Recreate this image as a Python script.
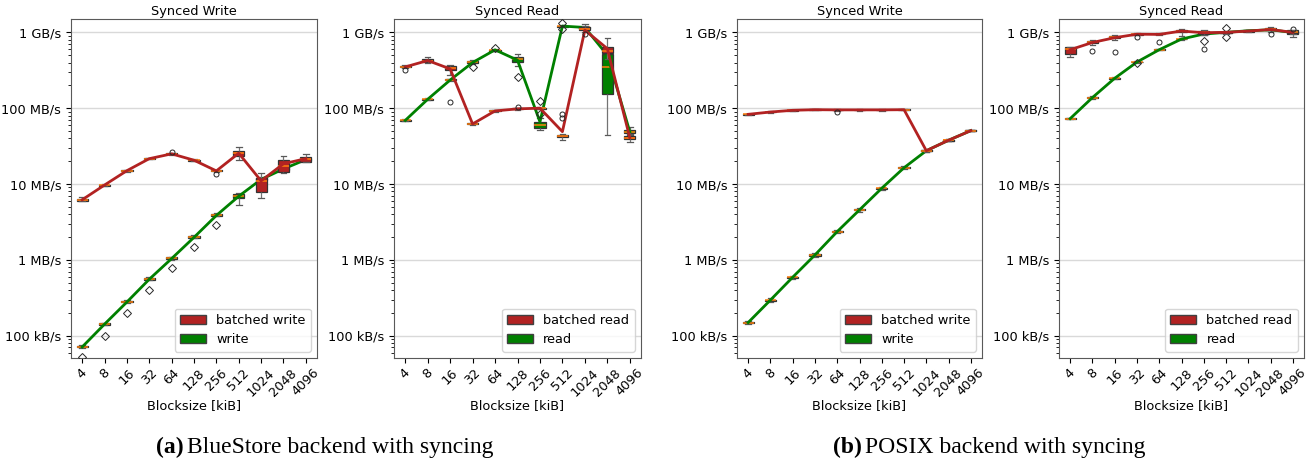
import numpy as np, pandas as pd, matplotlib.pyplot as plt, seaborn as sns
from matplotlib.patches import Patch
from matplotlib.ticker import NullFormatter

# ==========================
# DATA  (MB/s, box = lower whisker, q1, median, q3, upper whisker)
# ==========================
BLOCKSIZES = ["4", "8", "16", "32", "64", "128", "256", "512", "1024", "2048", "4096"]

# --- BlueStore, synced write
bs_wr_batched_box = [(5.9, 6.0, 6.2, 6.4, 6.7), (9.4, 9.55, 9.7, 9.85, 10.0), (14.6, 14.8, 15.0, 15.3, 15.5),
                     (21.2, 21.4, 21.6, 21.9, 22.2), (24.3, 24.7, 25.0, 25.4, 25.8), (19.9, 20.3, 20.6, 21.0, 21.5),
                     (14.4, 14.7, 14.9, 15.2, 15.5), (20.8, 23.5, 25.9, 27.5, 30.8), (6.56, 7.8, 11.1, 11.9, 13.9),
                     (14.0, 14.3, 17.1, 20.6, 23.4), (19.4, 19.7, 21.4, 23.0, 24.9)]
bs_wr_batched_mean = [6.2, 9.7, 15.0, 21.6, 25.0, 20.6, 14.9, 25.5, 11.0, 18.5, 21.6]
bs_wr_batched_out = [("64", 26.3), ("256", 13.5)]

bs_wr_box = [(0.069, 0.0705, 0.072, 0.0735, 0.075), (0.138, 0.140, 0.143, 0.146, 0.149), (0.27, 0.275, 0.28, 0.286, 0.292),
             (0.54, 0.55, 0.56, 0.575, 0.59), (1.01, 1.03, 1.05, 1.08, 1.1), (1.93, 1.96, 2.0, 2.05, 2.1),
             (3.75, 3.82, 3.9, 4.0, 4.1), (5.3, 6.6, 7.0, 7.4, 7.7), (10.8, 11.2, 11.6, 12.0, 12.3),
             (15.0, 15.4, 15.8, 16.2, 16.6), (20.0, 20.5, 21.0, 21.5, 22.0)]
bs_wr_mean = [0.071, 0.142, 0.278, 0.555, 1.04, 1.98, 3.85, 6.9, 11.5, 15.8, 21.0]
bs_wr_out = [("4", 0.052), ("8", 0.100), ("16", 0.199), ("32", 0.40), ("64", 0.77), ("128", 1.5), ("256", 2.9)]

# --- BlueStore, synced read
bs_rd_batched_box = [(335, 345, 352, 360, 370), (390, 410, 423, 440, 470), (274, 319, 336, 363, 370),
                     (60, 61, 62, 63, 64), (89, 90.5, 92, 93.5, 95), (95, 96.5, 98, 99.5, 101),
                     (97, 98.5, 100, 101.5, 103), (38, 41.5, 42.7, 44, 46), (1000, 1080, 1120, 1170, 1230),
                     (450, 530, 565, 635, 834), (36, 39, 40.8, 42.5, 45)]
bs_rd_batched_mean = [350, 425, 330, 62, 92, 98, 100, 49, 1070, 610, 41]
bs_rd_batched_out = [("4", 319), ("16", 122), ("128", 105), ("512", 83), ("512", 75), ("1024", 940)]

bs_rd_box = [(67, 68, 69, 70, 71), (127, 129, 131, 133, 135), (228, 232, 235, 239, 243),
             (385, 395, 406, 418, 432), (565, 575, 584, 592, 600), (363, 410, 440, 468, 513),
             (51.6, 55, 60, 65, 74), (1170, 1190, 1210, 1220, 1240), (1110, 1140, 1160, 1180, 1290),
             (44.3, 152, 352, 525, 600), (44, 46.5, 49, 52, 57)]
bs_rd_mean = [69, 131, 235, 400, 588, 430, 66, 1210, 1160, 500, 49]
bs_rd_out = [("32", 352), ("64", 627), ("128", 258), ("256", 124), ("256", 84), ("512", 1310), ("512", 1100)]

# --- POSIX, synced write
px_wr_batched_box = [(81, 82, 83, 84, 85), (87, 88, 89, 90, 91), (91.5, 92.8, 93.8, 94.8, 96),
                     (93.5, 94.5, 95.5, 96.5, 97.5), (93, 94, 95, 96, 97), (93, 94, 95, 96, 97),
                     (93, 94, 95, 96, 97), (93.5, 94.5, 95.5, 96.5, 97.5), (26.8, 27.2, 27.5, 27.9, 28.3),
                     (36.8, 37.3, 37.8, 38.3, 38.8), (49.4, 50.0, 50.6, 51.2, 51.8)]
px_wr_batched_mean = [83, 89, 93.8, 95.5, 95, 95, 95, 95.5, 27.5, 37.8, 50.6]
px_wr_batched_out = [("64", 88)]

px_wr_box = [(0.142, 0.146, 0.149, 0.152, 0.157), (0.281, 0.290, 0.295, 0.300, 0.310), (0.562, 0.580, 0.59, 0.600, 0.620),
             (1.10, 1.14, 1.16, 1.18, 1.23), (2.24, 2.32, 2.36, 2.40, 2.48), (4.33, 4.48, 4.56, 4.64, 4.79),
             (8.4, 8.65, 8.8, 8.95, 9.25), (15.6, 16.1, 16.4, 16.7, 17.2), (26.5, 27.1, 27.5, 27.9, 28.5),
             (36.9, 37.4, 37.8, 38.2, 38.7), (49.6, 50.2, 50.6, 51.0, 51.6)]
px_wr_mean = [0.149, 0.295, 0.59, 1.16, 2.36, 4.56, 8.8, 16.4, 27.5, 37.8, 50.6]
px_wr_out = []

# --- POSIX, synced read
px_rd_batched_box = [(469, 513, 612, 634, 650), (680, 720, 750, 775, 800), (800, 840, 867, 890, 910),
                     (920, 935, 950, 965, 980), (930, 940, 950, 960, 975), (900, 1010, 1050, 1080, 1100),
                     (930, 960, 1000, 1030, 1060), (960, 980, 1000, 1020, 1040), (1010, 1025, 1040, 1055, 1070),
                     (1000, 1060, 1100, 1130, 1160), (950, 980, 1000, 1020, 1040)]
px_rd_batched_mean = [590, 735, 850, 945, 940, 1040, 990, 1000, 1040, 1090, 1000]
px_rd_batched_out = [("8", 567), ("16", 545), ("32", 875), ("64", 750), ("256", 597), ("2048", 950), ("4096", 1100)]

px_rd_box = [(71.5, 72.2, 72.8, 73.4, 74), (133, 136, 138, 141, 146), (242, 245, 248, 251, 254),
             (396, 401, 406, 411, 416), (578, 584, 590, 596, 602), (800, 808, 816, 824, 832),
             (930, 940, 950, 960, 970), (980, 990, 1000, 1010, 1020), (1030, 1040, 1050, 1060, 1070),
             (1060, 1070, 1080, 1090, 1100), (880, 940, 990, 1060, 1090)]
px_rd_mean = [72.8, 138, 248, 406, 590, 816, 950, 1000, 1050, 1080, 995]
px_rd_out = [("32", 390), ("256", 775), ("512", 1130), ("512", 875)]

RED = "#b22222"
GREEN = "#008000"
FS = 9.3

Y_TICKS = [0.1, 1, 10, 100, 1000]
Y_LABELS = ["100 kB/s", "1 MB/s", "10 MB/s", "100 MB/s", "1 GB/s"]


def draw_series(ax, box, mean, out, color, marker, z):
    df = pd.DataFrame([(bs, v) for bs, stats in zip(BLOCKSIZES, box) for v in stats], columns=["bs", "mbs"])
    sns.boxplot(data=df, x="bs", y="mbs", order=BLOCKSIZES, color=color, saturation=1, width=0.5,
                whis=(0, 100), showfliers=False, log_scale=True, linecolor="0.2", linewidth=0.9,
                medianprops={"color": "#ff7f0e", "linewidth": 1.1},
                whiskerprops={"color": "0.45"}, capprops={"color": "0.35"},
                zorder=z, ax=ax)
    sns.pointplot(x=BLOCKSIZES, y=mean, order=BLOCKSIZES, color=color, marker="", markersize=0,
                  linewidth=2, errorbar=None, log_scale=True, zorder=z + 0.5, ax=ax)
    if out:
        xs = [BLOCKSIZES.index(bs) for bs, _ in out]
        ys = [v for _, v in out]
        ax.plot(xs, ys, ls="none", marker=marker, mfc="none", mec="0.15", ms=3.6, mew=0.7, zorder=z + 0.7)


def panel(ax, title, plain, batched, labels):
    draw_series(ax, *plain, GREEN, "D", 2)
    draw_series(ax, *batched, RED, "o", 3)
    ax.set_ylim(0.0508, 1500)
    ax.set_xlim(-0.5, 10.5)
    ax.set_yticks(Y_TICKS, Y_LABELS)
    ax.yaxis.set_minor_formatter(NullFormatter())
    ax.grid(axis="y", which="major", color="0.85", lw=1)
    ax.set_axisbelow(True)
    ax.tick_params(axis="both", labelsize=FS)
    ax.tick_params(axis="x", labelrotation=45, pad=2.5)
    ax.set_title(title, fontsize=FS, pad=3)
    ax.set_xlabel("Blocksize [kiB]", fontsize=FS, labelpad=0)
    ax.set_ylabel("")
    for s in ax.spines.values():
        s.set_color("0.35")
    handles = [Patch(fc=RED, ec="0.25", label=labels[0]), Patch(fc=GREEN, ec="0.25", label=labels[1])]
    ax.legend(handles=handles, loc="lower right", fontsize=FS)


W, H = 1312, 463
fig = plt.figure(figsize=(W / 100, H / 100), dpi=100)

boxes = [(71, 317), (394, 641), (737, 982), (1059, 1304)]
axes = [fig.add_axes([l / W, 1 - 358 / H, (r - l) / W, 339 / H]) for l, r in boxes]

panel(axes[0], "Synced Write", (bs_wr_box, bs_wr_mean, bs_wr_out),
      (bs_wr_batched_box, bs_wr_batched_mean, bs_wr_batched_out), ["batched write", "write"])
panel(axes[1], "Synced Read", (bs_rd_box, bs_rd_mean, bs_rd_out),
      (bs_rd_batched_box, bs_rd_batched_mean, bs_rd_batched_out), ["batched read", "read"])
panel(axes[2], "Synced Write", (px_wr_box, px_wr_mean, px_wr_out),
      (px_wr_batched_box, px_wr_batched_mean, px_wr_batched_out), ["batched write", "write"])
panel(axes[3], "Synced Read", (px_rd_box, px_rd_mean, px_rd_out),
      (px_rd_batched_box, px_rd_batched_mean, px_rd_batched_out), ["batched read", "read"])

# captions
cap_y = 1 - 447 / H
serif = ["Liberation Serif", "DejaVu Serif"]
fig.text(156 / W, cap_y, "(a)", family=serif, weight="bold", fontsize=17, va="center")
fig.text(187 / W, cap_y, "BlueStore backend with syncing", family=serif, fontsize=17, va="center")
fig.text(833 / W, cap_y, "(b)", family=serif, weight="bold", fontsize=17, va="center")
fig.text(865 / W, cap_y, "POSIX backend with syncing", family=serif, fontsize=17, va="center")

fig.savefig("out.png", dpi=100)
